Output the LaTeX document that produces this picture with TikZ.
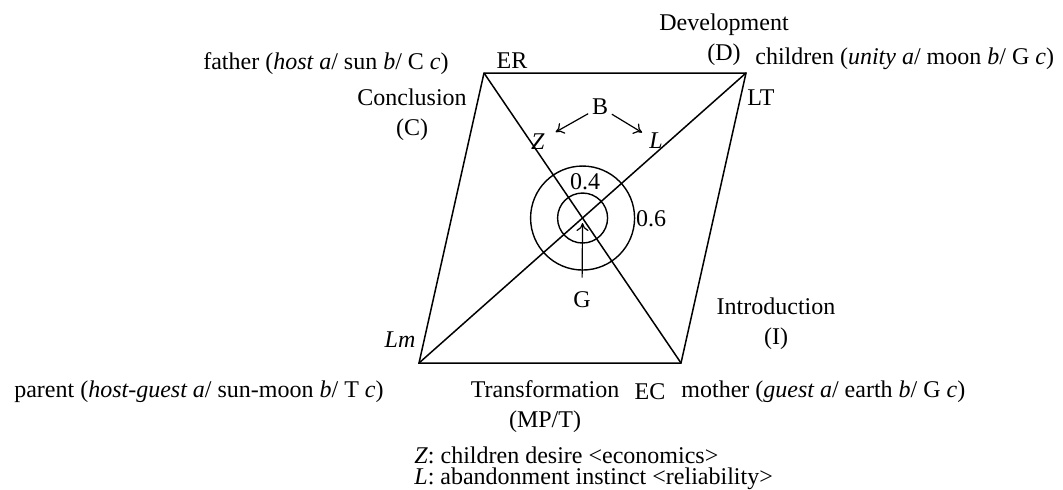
\documentclass[tikz,border=0pt]{standalone}
\usepackage{fontspec}
\setmainfont{Liberation Serif}
\usetikzlibrary{arrows.meta}
\begin{document}
\begin{tikzpicture}[
        x=0.5pt, y=-0.5pt,
        every node/.style={inner sep=0pt, font=\fontsize{12}{15}\selectfont, align=center},
        side/.style={draw, line width=0.75pt},
        ring/.style={draw, line width=0.7pt},
        ptr/.style={draw, -{To[length=4pt,width=6pt]}, line width=0.6pt},
    ]
    \useasboundingbox (0,0) rectangle (1063,489);
    \coordinate (er) at (484,73);
    \coordinate (lt) at (746,73);
    \coordinate (lm) at (419,363);
    \coordinate (ec) at (681,363);
    \coordinate (o) at (intersection of er--ec and lt--lm);
    \draw[side] (er) -- (lt) -- (ec) -- (lm) -- cycle;
    \draw[side] (er) -- (ec);
    \draw[side] (lt) -- (lm);
    \draw[ring] (o) circle[radius=12.5pt];
    \draw[ring] (o) circle[radius=26pt];

    \node[anchor=east](father) at (449,64){father (\textit{host a}/ sun \textit{b}/ C \textit{c})};
    \node(ERl) at (512,61){ER};
    \node(conc) at (412,115){Conclusion\\(C)};
    \node(dev) at (724,40){Development\\(D)};
    \node[anchor=west](children) at (755,59){children (\textit{unity a}/ moon \textit{b}/ G \textit{c})};
    \node(LTl) at (761,98){LT};
    \node(B) at (600,107){B};
    \node(Z) at (538,142){\textit{Z}};
    \node(L) at (656,141){\textit{L}};
    \node(v4) at (585,182){0.4};
    \node(v6) at (651,219){0.6};
    \node(G) at (582,300){G};
    \node(intro) at (776,324){Introduction\\(I)};
    \node(Lml) at (400,340){\textit{Lm}};
    \node[anchor=east](parent) at (384,392){parent (\textit{host-guest a}/ sun-moon \textit{b}/ T \textit{c})};
    \node(trans) at (545,407){Transformation\\(MP/T)};
    \node(ECl) at (650,392){EC};
    \node[anchor=west](mother) at (681,392){mother (\textit{guest a}/ earth \textit{b}/ G \textit{c})};
    \node[anchor=base west](keyZ) at (414,463){\textit{Z}: children desire <economics>};
    \node[anchor=base west](keyL) at (414,484){\textit{L}: abandonment instinct <reliability>};

    \draw[ptr, shorten <=2pt, shorten >=6pt] (B) -- (Z);
    \draw[ptr, shorten <=2pt, shorten >=4pt] (B) -- (L);
    \draw[ptr, shorten <=7pt, shorten >=2.5pt] (G.north) -- (o);
\end{tikzpicture}
\end{document}
